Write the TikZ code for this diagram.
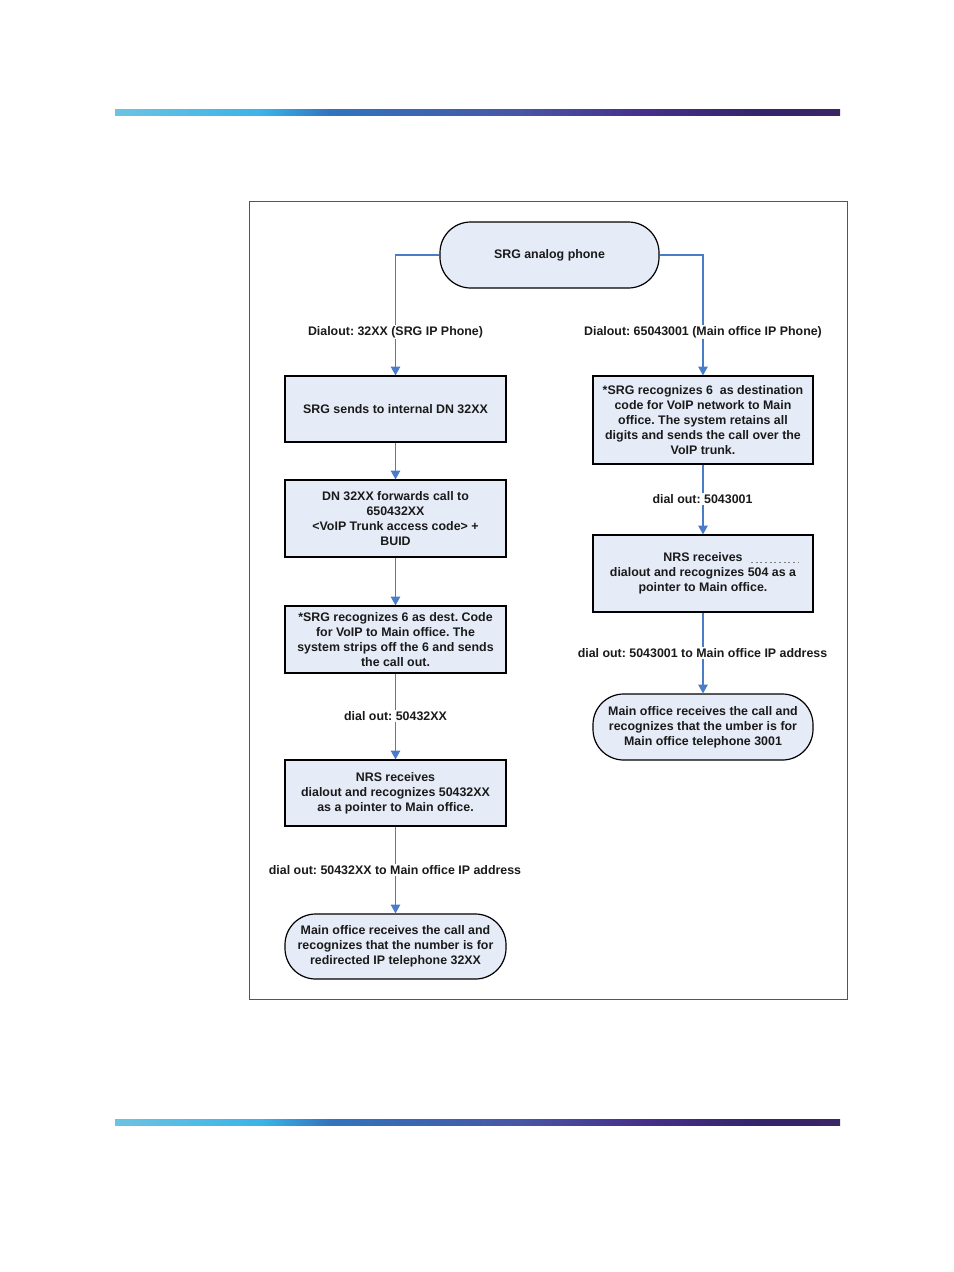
\documentclass[tikz,border=0pt]{standalone}
\usepackage{fontspec}
\setmainfont{Liberation Sans}
\usetikzlibrary{arrows.meta}
\definecolor{boxfill}{HTML}{E6ECF7}
\definecolor{conncol}{HTML}{4A7DC6}
\definecolor{txt}{HTML}{1A1A1A}
\definecolor{framecol}{HTML}{555555}
\definecolor{ba}{HTML}{6CC3E2}
\definecolor{bb}{HTML}{3AB4E8}
\definecolor{bc}{HTML}{3174BE}
\definecolor{bd}{HTML}{4756A6}
\definecolor{be}{HTML}{46308C}
\definecolor{bf}{HTML}{34246A}
\definecolor{bg}{HTML}{3A2566}
\newcommand\dfont{\fontsize{9.3}{11.25}\selectfont\bfseries\frenchspacing}
\begin{document}
\frenchspacing
\begin{tikzpicture}[x=0.75pt,y=-0.75pt,
  box/.style={draw=black, line width=0.9pt, fill=boxfill, minimum width=165.75pt,
    align=center, font=\dfont, text=txt, inner sep=2pt},
  pill/.style={box, rounded corners=23pt},
  conn/.style={draw=conncol, line width=0.9pt, -{Triangle[length=6.5pt,width=7pt]}},
  lbl/.style={fill=white, font=\dfont, text=txt, inner sep=1.2pt}]
\useasboundingbox (0,0) rectangle (954,1272);

% gradient bars
\foreach \y in {109,1119}{
  \shade[left color=ba, right color=bb] (115,\y) rectangle (262,\y+6.5);
  \shade[left color=bb, right color=bc] (261.5,\y) rectangle (330,\y+6.5);
  \shade[left color=bc, right color=bd] (329.5,\y) rectangle (520,\y+6.5);
  \shade[left color=bd, right color=be] (519.5,\y) rectangle (640,\y+6.5);
  \shade[left color=be, right color=bf] (639.5,\y) rectangle (760,\y+6.5);
  \shade[left color=bf, right color=bg] (759.5,\y) rectangle (840,\y+6.5);
}

% frame
\draw[framecol, line width=0.6pt] (249,201) rectangle (847,999);

% nodes
\node[pill, minimum width=164.25pt, minimum height=49.5pt] (top) at (549.5,255) {SRG analog phone};

\node[box, minimum height=49.5pt] (L1) at (395.5,409) {SRG sends to internal DN 32XX};
\node[box, minimum height=57.75pt] (L2) at (395.5,518.5) {DN 32XX forwards call to\\650432XX\\<VoIP Trunk access code> +\\BUID};
\node[box, minimum height=50.25pt] (L3) at (395.5,639.5) {*SRG recognizes 6 as dest. Code\\for VoIP to Main office. The\\system strips off the 6 and sends\\the call out.};
\node[box, minimum height=49.5pt] (L4) at (395.5,793) {NRS receives\\dialout and recognizes 50432XX\\as a pointer to Main office.};
\node[pill, minimum height=48.75pt] (L5) at (395.5,946.5) {Main office receives the call and\\recognizes that the number is for\\redirected IP telephone 32XX};

\node[box, minimum width=165pt, minimum height=66pt] (R1) at (703,420) {*SRG recognizes 6\ \ as destination\\code for VoIP network to Main\\office. The system retains all\\digits and sends the call over the\\VoIP trunk.};
\node[box, minimum width=165pt, minimum height=57.75pt] (R2) at (703,573.5) {NRS receives\\dialout and recognizes 504 as a\\pointer to Main office.};
\node[pill, minimum width=165pt, minimum height=49.5pt] (R3) at (703,727) {Main office receives the call and\\recognizes that the umber is for\\Main office telephone 3001};

\draw[gray, line width=0.6pt, dash pattern=on 1.5pt off 2pt] (751,562) -- (799,562);

% connectors
\draw[conn] (top.west) -| (L1.north);
\draw[conn] (top.east) -| (R1.north);
\draw[conn] (L1) -- (L2);
\draw[conn] (L2) -- (L3);
\draw[conn] (L3) -- (L4);
\draw[conn] (L4) -- (L5);
\draw[conn] (R1) -- (R2);
\draw[conn] (R2) -- (R3);

% labels
\node[lbl] (d1) at (395.5,332) {Dialout: 32XX (SRG IP Phone)};
\node[lbl] (d2) at (703,332) {Dialout: 65043001 (Main office IP Phone)};
\node[lbl] (d3) at (702.5,499) {dial out: 5043001};
\node[lbl] (d4) at (702.5,653) {dial out: 5043001 to Main office IP address};
\node[lbl] (d5) at (395.5,716) {dial out: 50432XX};
\node[lbl] (d6) at (395,870) {dial out: 50432XX to Main office IP address};
\end{tikzpicture}
\end{document}
